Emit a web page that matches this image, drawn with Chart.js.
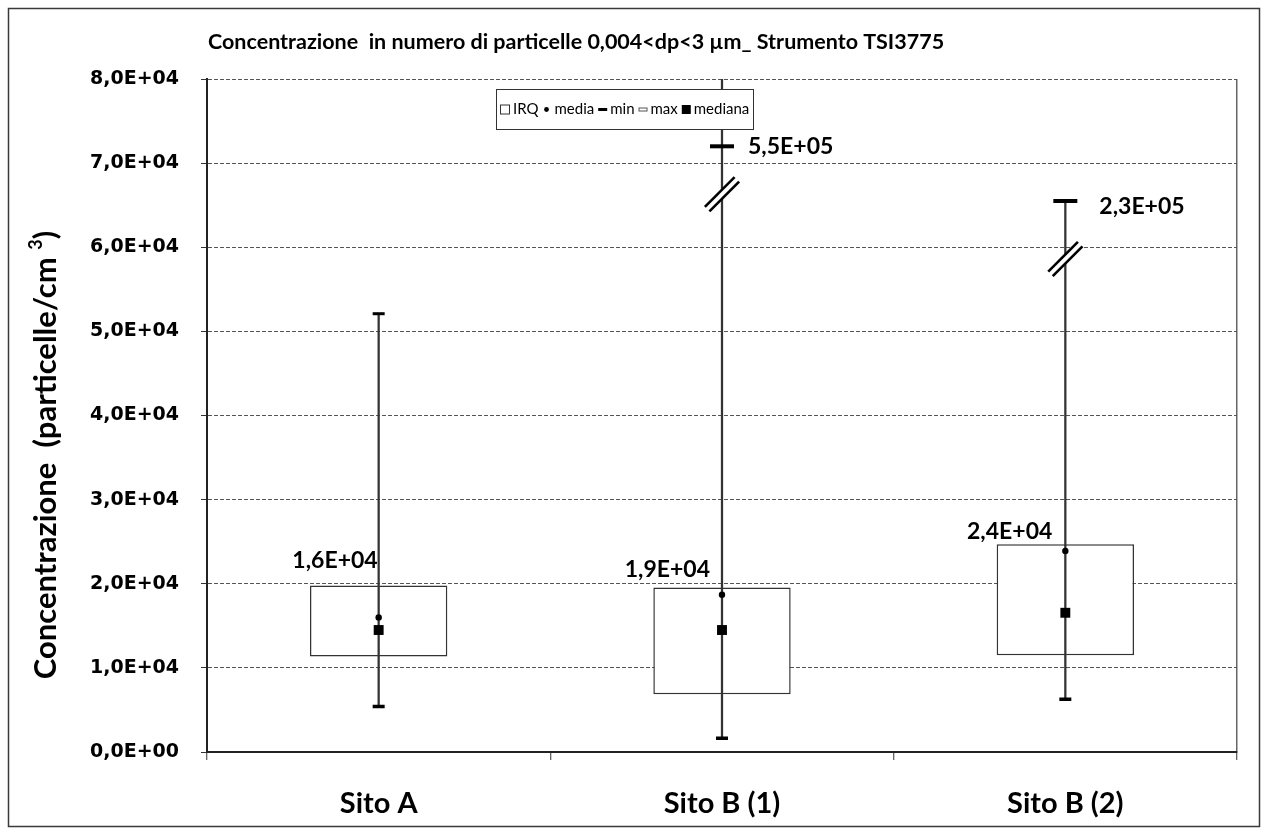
<!DOCTYPE html>
<html>
<head>
<meta charset="utf-8">
<title>Concentrazione in numero di particelle</title>
<script src="https://cdn.jsdelivr.net/npm/chart.js@4.4.1/dist/chart.umd.min.js"></script>
<style>
  html, body { margin: 0; padding: 0; background: #fff; }
  canvas { display: block; }
</style>
</head>
<body>
<canvas id="grafico" width="1268" height="834"></canvas>
<script>
// Siti di misura
const categorie = ['Sito A', 'Sito B (1)', 'Sito B (2)'];

// Statistiche della concentrazione (particelle/cm3)
const q1      = [11350,  6870, 11500];   // primo quartile
const q3      = [19800, 19560, 24700];   // terzo quartile
const media   = [16000, 18700, 23900];
const mediana = [14500, 14500, 16550];
const minimo  = [ 5400,  1630,  6270];
const massimo = [52100, 550000, 230000];

// massimi fuori scala: posizione del segno sull'asse interrotto
const massimoSegnato = [52100, 72000, 65500];
// estremo superiore della linea dei baffi
const baffoSopra     = [52100, 80000, 65500];
// punto dell'interruzione (//) sulla linea dei baffi
const interruzione   = [null, 66300, 58600];

// Asse delle concentrazioni
const assaYMin = 0;
const assaYMax = 80000;
const passoY   = 10000;

const TITOLO = 'Concentrazione  in numero di particelle 0,004<dp<3 \u00b5m_ Strumento TSI3775';
const TITOLO_Y = 'Concentrazione  (particelle/cm';

const FONT = 'Lato, "Open Sans", "DejaVu Sans", sans-serif';

// 16000 -> "1,6E+04"
function formatoE(v) {
  if (v === 0) return '0,0E+00';
  let e = Math.floor(Math.log10(Math.abs(v)));
  let m = (v / Math.pow(10, e)).toFixed(1);
  if (m === '10.0') { e += 1; m = '1.0'; }
  return m.replace('.', ',') + 'E' + (e < 0 ? '-' : '+') + String(Math.abs(e)).padStart(2, '0');
}

const decorazioni = {
  id: 'decorazioni',
  beforeDraw(chart) {
    const ctx = chart.ctx;
    ctx.save();
    ctx.fillStyle = '#fff';
    ctx.fillRect(0, 0, chart.width, chart.height);
    ctx.strokeStyle = '#3a3a3a';
    ctx.lineWidth = 1.5;
    ctx.strokeRect(8.5, 8.5, chart.width - 17, chart.height - 16);
    ctx.restore();
  },
  afterDatasetsDraw(chart, args, opts) {
    const ctx = chart.ctx;
    const xs = chart.scales.x, ys = chart.scales.y;
    ctx.save();

    // interruzioni // sui baffi fuori scala
    interruzione.forEach((v, i) => {
      if (v === null) return;
      const x = xs.getPixelForValue(i), y = ys.getPixelForValue(v);
      const L = 21, d = 3.2;
      const ux = Math.SQRT1_2, uy = -Math.SQRT1_2;   // lungo la barra
      const px = Math.SQRT1_2, py = Math.SQRT1_2;    // perpendicolare
      ctx.fillStyle = '#fff';
      ctx.beginPath();
      ctx.moveTo(x - ux * L - px * d, y - uy * L - py * d);
      ctx.lineTo(x + ux * L - px * d, y + uy * L - py * d);
      ctx.lineTo(x + ux * L + px * d, y + uy * L + py * d);
      ctx.lineTo(x - ux * L + px * d, y - uy * L + py * d);
      ctx.closePath();
      ctx.fill();
      ctx.strokeStyle = '#000';
      ctx.lineWidth = 2.6;
      [-d, d].forEach(s => {
        ctx.beginPath();
        ctx.moveTo(x - ux * L + px * s, y - uy * L + py * s);
        ctx.lineTo(x + ux * L + px * s, y + uy * L + py * s);
        ctx.stroke();
      });
    });

    // etichette della media
    ctx.fillStyle = '#000';
    ctx.font = 'bold 23px ' + FONT;
    ctx.textAlign = 'right';
    ctx.textBaseline = 'middle';
    media.forEach((v, i) => {
      const o = opts.spostaMedia[i];
      const x = xs.getPixelForValue(i), y = ys.getPixelForValue(v);
      ctx.fillText(formatoE(v), x + o[0], y + o[1]);
    });

    // valori reali dei massimi fuori scala
    ctx.textAlign = 'left';
    massimo.forEach((v, i) => {
      if (v <= assaYMax) return;
      const o = opts.spostaMassimo[i];
      const x = xs.getPixelForValue(i), y = ys.getPixelForValue(massimoSegnato[i]);
      ctx.fillText(formatoE(v), x + o[0], y + o[1]);
    });

    // legenda
    const L = opts.legenda;
    ctx.fillStyle = '#fff';
    ctx.fillRect(L.x, L.y, L.w, L.h);
    ctx.strokeStyle = '#333';
    ctx.lineWidth = 1;
    ctx.strokeRect(L.x + 0.5, L.y + 0.5, L.w, L.h);
    ctx.font = '15px ' + FONT;
    ctx.textAlign = 'left';
    ctx.textBaseline = 'middle';
    const cy = L.y + L.h / 2 + 0.5;
    let cx = L.x + 4;
    chart.data.datasets.forEach(ds => {
      if (!ds.simbolo) return;
      ctx.fillStyle = '#000';
      ctx.strokeStyle = '#000';
      ctx.lineWidth = 1;
      if (ds.simbolo === 'riquadro') {
        ctx.strokeStyle = '#333';
        ctx.strokeRect(cx + 0.5, cy - 4.5, 9, 9);
      } else if (ds.simbolo === 'punto') {
        ctx.beginPath(); ctx.arc(cx + 5, cy, 2.4, 0, Math.PI * 2); ctx.fill();
      } else if (ds.simbolo === 'trattino') {
        ctx.fillRect(cx + 1, cy - 1.5, 9, 3);
      } else if (ds.simbolo === 'trattinoVuoto') {
        ctx.strokeStyle = '#555';
        ctx.strokeRect(cx + 1.5, cy - 1.5, 8, 3);
      } else if (ds.simbolo === 'quadrato') {
        ctx.fillRect(cx + 1, cy - 4.5, 9, 9);
      }
      cx += 13;
      ctx.fillStyle = '#000';
      ctx.fillText(ds.label, cx, cy);
      cx += ctx.measureText(ds.label).width + L.spazio;
    });
    ctx.restore();
  },
  afterDraw(chart, args, opts) {
    const ctx = chart.ctx;
    ctx.save();
    ctx.fillStyle = '#000';
    // titolo
    ctx.font = 'bold 21.5px ' + FONT;
    ctx.textAlign = 'left';
    ctx.textBaseline = 'alphabetic';
    ctx.fillText(TITOLO, opts.titolo.x, opts.titolo.y);

    // titolo dell'asse verticale, con l'esponente 3 in apice
    ctx.translate(opts.titoloY.x, opts.titoloY.y);
    ctx.rotate(-Math.PI / 2);
    const fGrande = 'bold 31px ' + FONT, fApice = 'bold 18px ' + FONT;
    ctx.font = fGrande;
    const w1 = ctx.measureText(TITOLO_Y + ' ').width;
    const w3 = ctx.measureText(')').width;
    ctx.font = fApice;
    const w2 = ctx.measureText('3').width;
    let x0 = -(w1 + w2 + w3) / 2;
    ctx.textBaseline = 'middle';
    ctx.font = fGrande;
    ctx.fillText(TITOLO_Y + ' ', x0, 0);
    ctx.font = fApice;
    ctx.fillText('3', x0 + w1, -10);
    ctx.font = fGrande;
    ctx.fillText(')', x0 + w1 + w2, 0);
    ctx.restore();
  }
};

new Chart(document.getElementById('grafico'), {
  type: 'bar',
  data: {
    labels: categorie,
    datasets: [
      {
        label: 'IRQ', simbolo: 'riquadro', type: 'bar',
        data: categorie.map((_, i) => [q1[i], q3[i]]),
        backgroundColor: '#fff', borderColor: '#333', borderWidth: 1.5, borderSkipped: false,
        barPercentage: 0.4, categoryPercentage: 1, grouped: false, order: 6
      },
      {
        label: 'baffi', type: 'bar',
        data: categorie.map((_, i) => [minimo[i], baffoSopra[i]]),
        backgroundColor: '#333', borderWidth: 0, barThickness: 1.6, grouped: false, order: 5
      },
      {
        label: 'media', simbolo: 'punto', type: 'line', data: media, showLine: false,
        pointStyle: 'circle', pointRadius: 3.2, pointBackgroundColor: '#000',
        pointBorderColor: '#000', pointBorderWidth: 0, order: 2
      },
      {
        label: 'min', simbolo: 'trattino', type: 'line', data: minimo, showLine: false,
        pointStyle: 'line', pointRadius: 6, pointBorderWidth: 3.5, pointBorderColor: '#000', order: 4
      },
      {
        label: 'max', simbolo: 'trattinoVuoto', type: 'line', data: massimoSegnato, showLine: false,
        pointStyle: 'line', pointRadius: [6, 12, 12], pointBorderWidth: [3, 4, 4], pointBorderColor: '#000', order: 3
      },
      {
        label: 'mediana', simbolo: 'quadrato', type: 'line', data: mediana, showLine: false,
        pointStyle: 'rect', pointRadius: 7, pointBackgroundColor: '#000',
        pointBorderColor: '#000', pointBorderWidth: 0, order: 1
      }
    ]
  },
  options: {
    responsive: false,
    animation: false,
    devicePixelRatio: 1,
    layout: { padding: { left: 20, right: 31, top: 79, bottom: 0 } },
    plugins: {
      legend: { display: false },
      tooltip: { enabled: false },
      decorazioni: {
        titolo: { x: 208, y: 49 },
        titoloY: { x: 46, y: 455 },
        legenda: { x: 496, y: 89, w: 257, h: 40, spazio: 3 },
        spostaMedia: [[-1, -57], [-12, -25], [-13, -19]],
        spostaMassimo: [null, [26, 0], [34, 6]]
      }
    },
    scales: {
      x: {
        type: 'category',
        offset: true,
        grid: {
          offset: true,
          drawOnChartArea: true,
          color: c => (c.tick ? 'rgba(0,0,0,0)' : '#666'),
          lineWidth: 1.5,
          tickColor: '#333',
          tickLength: 8,
          tickWidth: 1
        },
        border: { color: '#222', width: 2 },
        ticks: { font: { family: FONT, size: 29, weight: 'bold' }, color: '#000', padding: 26 },
        afterFit(s) { s.height = 82; }
      },
      y: {
        min: assaYMin,
        max: assaYMax,
        ticks: {
          stepSize: passoY,
          callback: v => formatoE(v),
          font: { family: '"DejaVu Sans", Verdana, sans-serif', size: 19, weight: 'bold' },
          color: '#000',
          padding: 22
        },
        grid: { color: '#555', lineWidth: 1, tickLength: 6, tickColor: '#333', tickBorderDash: [] },
        border: { color: '#222', width: 2, dash: [4, 2] },
        afterFit(s) { s.width = 187; }
      }
    }
  },
  plugins: [decorazioni]
});
</script>
</body>
</html>
